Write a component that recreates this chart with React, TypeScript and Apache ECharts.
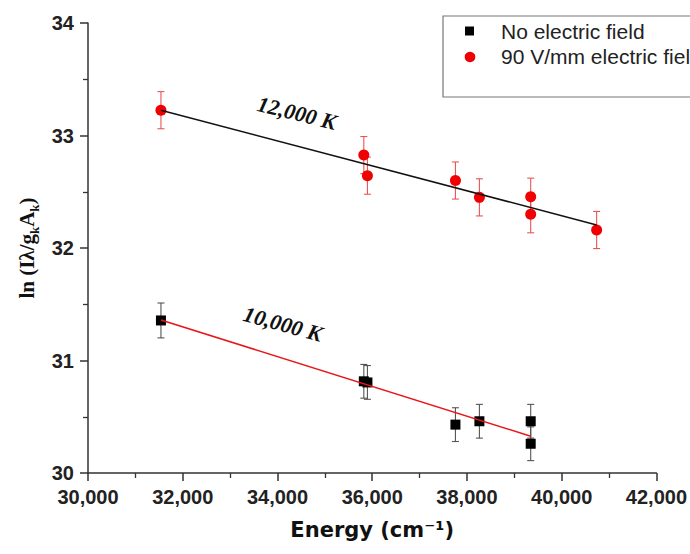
import React, { useEffect, useRef } from 'react';
import * as echarts from 'echarts';

// No electric field (black squares)
const energyNoField = [31540, 35823, 35899, 37757, 38263, 39346, 39346];
const lnNoField = [31.356, 30.815, 30.805, 30.43, 30.46, 30.46, 30.26];
const errNoField = [0.155, 0.15, 0.15, 0.15, 0.15, 0.15, 0.15];

// 90 V/mm electric field (red circles)
const energyField = [31540, 35823, 35899, 37757, 38263, 39346, 39346, 40738];
const lnField = [33.225, 32.826, 32.643, 32.6, 32.45, 32.456, 32.3, 32.16];
const errField = [0.165, 0.165, 0.165, 0.165, 0.165, 0.165, 0.165, 0.165];

// Linear fits
const fit10kX = [31540, 39346];
const fit10kY = [31.36, 30.327];
const fit12kX = [31540, 40738];
const fit12kY = [33.225, 32.205];

const seriesNames = ['No electric field', '90 V/mm electric field'];
const fitLabels = ['10,000 K', '12,000 K'];

const SANS = '"Liberation Sans", Arial, sans-serif';
const SERIF = '"Liberation Serif", "Times New Roman", serif';
const RED = '#f00000';

function errorSeries(xs: number[], ys: number[], es: number[], color: string, z: number) {
  return {
    type: 'custom',
    silent: true,
    z,
    data: xs.map((x, i) => [x, ys[i] - es[i], ys[i] + es[i]]),
    renderItem: (params: any, api: any) => {
      const x = api.value(0);
      const lo = api.coord([x, api.value(1)]);
      const hi = api.coord([x, api.value(2)]);
      const w = 3.5;
      const style = { stroke: color, lineWidth: 1.1 };
      return {
        type: 'group',
        children: [
          { type: 'line', shape: { x1: lo[0], y1: lo[1], x2: hi[0], y2: hi[1] }, style },
          { type: 'line', shape: { x1: hi[0] - w, y1: hi[1], x2: hi[0] + w, y2: hi[1] }, style },
          { type: 'line', shape: { x1: lo[0] - w, y1: lo[1], x2: lo[0] + w, y2: lo[1] }, style },
        ],
      };
    },
  };
}

export default function App() {
  const ref = useRef<HTMLDivElement>(null);
  useEffect(() => {
    if (!ref.current) return;
    const chart = echarts.init(ref.current, null, { renderer: 'svg' });
    const axisLine = { lineStyle: { color: '#333', width: 1.5 } };
    chart.setOption({
      animation: false,
      backgroundColor: '#fff',
      grid: { left: 88, right: 33, top: 23, bottom: 81 },
      xAxis: {
        type: 'value',
        min: 30000,
        max: 42000,
        interval: 2000,
        name: 'Energy (cm⁻¹)',
        nameLocation: 'middle',
        nameGap: 46,
        nameTextStyle: { fontFamily: '"DejaVu Sans", Verdana, sans-serif', fontWeight: 'bold', fontSize: 21, color: '#111' },
        axisLine,
        axisTick: { length: 8, lineStyle: { color: '#333', width: 1.5 } },
        minorTick: { show: true, splitNumber: 2, length: 5, lineStyle: { color: '#333', width: 1.3 } },
        splitLine: { show: false },
        axisLabel: {
          margin: 14,
          fontFamily: SANS,
          fontWeight: 'bold',
          fontSize: 20,
          color: '#222',
          formatter: (v: number) => v.toLocaleString('en-US'),
        },
      },
      yAxis: {
        type: 'value',
        min: 30,
        max: 34,
        interval: 1,
        name: '{m|ln (Iλ/g}{s|k}{m|A}{s|k}{m|)}',
        nameLocation: 'middle',
        nameRotate: 90,
        nameGap: 46,
        nameTextStyle: {
          rich: {
            m: { fontFamily: SERIF, fontWeight: 'bold', fontSize: 21, color: '#111' },
            s: { fontFamily: SERIF, fontWeight: 'bold', fontSize: 13, color: '#111', verticalAlign: 'bottom', lineHeight: 27 },
          },
        },
        axisLine: { show: true, ...axisLine },
        axisTick: { show: true, length: 8, lineStyle: { color: '#333', width: 1.5 } },
        minorTick: { show: true, splitNumber: 2, length: 5, lineStyle: { color: '#333', width: 1.3 } },
        splitLine: { show: false },
        axisLabel: { margin: 14, fontFamily: SANS, fontWeight: 'bold', fontSize: 20, color: '#222' },
      },
      series: [
        errorSeries(energyNoField, lnNoField, errNoField, '#555', 2),
        errorSeries(energyField, lnField, errField, '#e85555', 2),
        {
          name: seriesNames[0],
          type: 'scatter',
          symbol: 'rect',
          symbolSize: 10,
          itemStyle: { color: '#000', opacity: 1 },
          z: 3,
          data: energyNoField.map((x, i) => [x, lnNoField[i]]),
        },
        {
          name: seriesNames[1],
          type: 'scatter',
          symbol: 'circle',
          symbolSize: 11,
          itemStyle: { color: RED, opacity: 1 },
          z: 3,
          data: energyField.map((x, i) => [x, lnField[i]]),
        },
        {
          name: 'fit10k',
          type: 'line',
          showSymbol: false,
          symbol: 'none',
          z: 4,
          lineStyle: { color: '#e8151a', width: 1.5 },
          data: fit10kX.map((x, i) => [x, fit10kY[i]]),
        },
        {
          name: 'fit12k',
          type: 'line',
          showSymbol: false,
          symbol: 'none',
          z: 4,
          lineStyle: { color: '#111', width: 1.5 },
          data: fit12kX.map((x, i) => [x, fit12kY[i]]),
        },
      ],
      graphic: [
        {
          type: 'text',
          x: 283,
          y: 324,
          rotation: -0.27,
          style: {
            text: fitLabels[0],
            font: `italic bold 22px ${SERIF}`,
            fill: '#111',
            align: 'center',
            verticalAlign: 'middle',
          },
        },
        {
          type: 'text',
          x: 297,
          y: 113,
          rotation: -0.24,
          style: {
            text: fitLabels[1],
            font: `italic bold 22px ${SERIF}`,
            fill: '#111',
            align: 'center',
            verticalAlign: 'middle',
          },
        },
        // legend
        {
          type: 'rect',
          shape: { x: 443, y: 16, width: 300, height: 81 },
          style: { fill: '#fff', stroke: '#777', lineWidth: 1.2 },
          z: 10,
        },
        {
          type: 'rect',
          shape: { x: 465, y: 26.5, width: 9, height: 9 },
          style: { fill: '#000' },
          z: 11,
        },
        {
          type: 'circle',
          shape: { cx: 470, cy: 57, r: 5.3 },
          style: { fill: RED },
          z: 11,
        },
        {
          type: 'text',
          x: 501,
          y: 31.5,
          z: 11,
          style: { text: seriesNames[0], font: `21px ${SANS}`, fill: '#222', verticalAlign: 'middle' },
        },
        {
          type: 'text',
          x: 501,
          y: 56.5,
          z: 11,
          style: { text: seriesNames[1], font: `21px ${SANS}`, fill: '#222', verticalAlign: 'middle' },
        },
      ],
    });
    return () => chart.dispose();
  }, []);
  return (
    <div
      ref={ref}
      style={{ position: 'fixed', left: 0, top: 0, width: 690, height: 554, background: '#fff' }}
    />
  );
}
